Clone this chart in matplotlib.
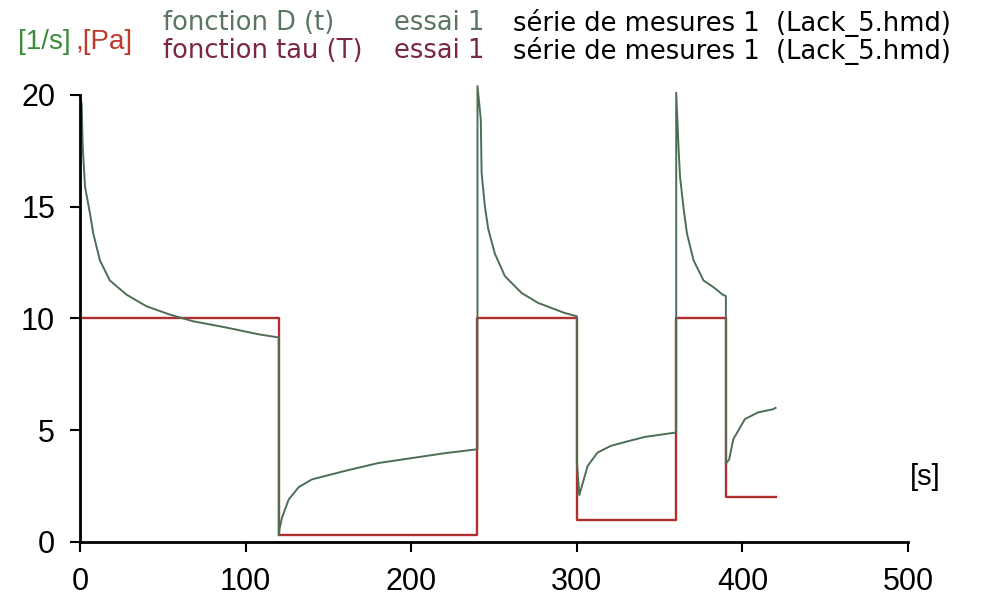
import matplotlib.pyplot as plt

# fonction D (t) - vitesse de cisaillement [1/s]
t_D = [0, 1, 1.6, 3, 6, 8, 12, 18, 28, 40, 54, 68, 88, 108, 120,
       120, 120.5, 122, 126, 132, 140, 160, 180, 200, 220, 240,
       240, 242, 242.5, 244.5, 246.5, 250.5, 256.5, 266.5, 276.5, 292.5, 300,
       300, 301.5, 306.5, 312.5, 320.5, 330.5, 341, 360,
       360, 361.5, 362.3, 364.5, 366.5, 370.5, 376.5, 382.5, 388, 390,
       390, 392, 394.5, 401.5, 409.5, 418.5, 420]
D = [19.9, 19.6, 17.7, 15.9, 14.7, 13.8, 12.6, 11.7, 11.07, 10.55, 10.18, 9.88, 9.6, 9.29, 9.15,
     0.3, 0.6, 1.1, 1.9, 2.45, 2.8, 3.18, 3.53, 3.75, 3.97, 4.15,
     20.4, 18.9, 16.5, 15.0, 14.0, 12.9, 11.9, 11.15, 10.7, 10.25, 10.1,
     3.6, 2.1, 3.4, 4.0, 4.3, 4.5, 4.7, 4.9,
     20.1, 17.5, 16.35, 14.9, 13.8, 12.6, 11.7, 11.4, 11.07, 11.0,
     3.5, 3.7, 4.6, 5.5, 5.8, 5.94, 6.0]

# fonction tau (T) - contrainte [Pa]
t_tau = [0, 120, 120, 240, 240, 300, 300, 360, 360, 390, 390, 420]
tau = [10, 10, 0.3, 0.3, 10, 10, 1, 1, 10, 10, 2, 2]

xticks = [0, 100, 200, 300, 400, 500]
yticks = [0, 5, 10, 15, 20]

plt.rcParams['font.family'] = ['Liberation Sans', 'DejaVu Sans']

fig = plt.figure(figsize=(9.87, 6.02), dpi=100)
ax = fig.add_axes([0.0811, 0.0997, 0.8389, 0.7425])

ax.plot(t_tau, tau, color='#b03030', linewidth=1.7, clip_on=False)
ax.plot(t_D, D, color='#4d6e55', linewidth=1.4, clip_on=False)

ax.set_xlim(0, 500)
ax.set_ylim(0, 20)
ax.set_xticks(xticks)
ax.set_yticks(yticks)
ax.tick_params(labelsize=22, length=7, width=1.5, pad=11, color='black')

for s in ['top', 'right']:
    ax.spines[s].set_visible(False)
for s in ['left', 'bottom']:
    ax.spines[s].set_linewidth(2)

# en-tete : police un peu plus large
hf = ['DejaVu Sans']
fs = 18.5
y1, y2 = 0.962, 0.915
fig.text(0.018, 0.93, "[1/s]", color='#3c8c3c', fontsize=20, va='center')
fig.text(0.076, 0.93, ",[Pa]", color='#c03a2a', fontsize=20, va='center')

fig.text(0.165, y1, "fonction D (t)", color='#5a7562', fontsize=fs, va='center', family=hf)
fig.text(0.491, y1, "essai 1", color='#5a7562', fontsize=fs, va='center', ha='right', family=hf)
fig.text(0.52, y1, "série de mesures 1  (Lack_5.hmd)", color='black', fontsize=fs, va='center', family=hf)

fig.text(0.165, y2, "fonction tau (T)", color='#7a2840', fontsize=fs, va='center', family=hf)
fig.text(0.491, y2, "essai 1", color='#7a2840', fontsize=fs, va='center', ha='right', family=hf)
fig.text(0.52, y2, "série de mesures 1  (Lack_5.hmd)", color='black', fontsize=fs, va='center', family=hf)

fig.text(0.937, 0.208, "[s]", color='black', fontsize=21, va='center', ha='center')

fig.savefig("out.png", dpi=100)
